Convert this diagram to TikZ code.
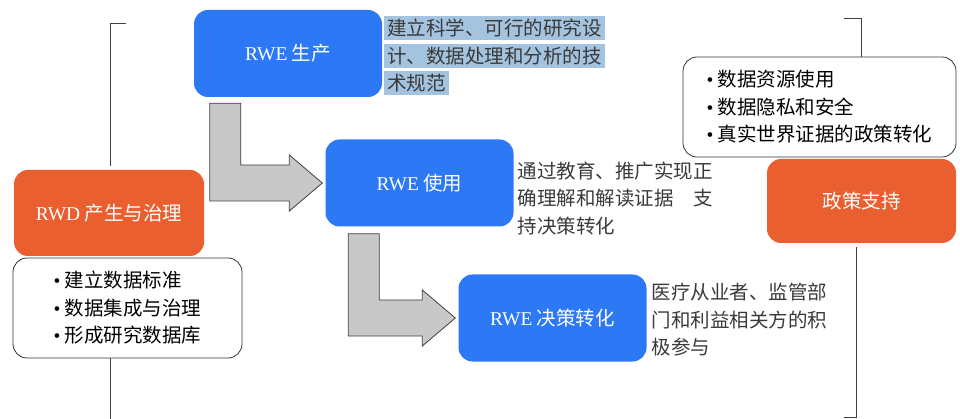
\documentclass[tikz,border=0pt]{standalone}
\usepackage{fontspec}
\setmainfont{Noto Sans CJK SC}
\newfontfamily\lat{Liberation Serif}
\usetikzlibrary{positioning,calc}

\definecolor{rweblue}{HTML}{2C78F5}
\definecolor{rwdorange}{HTML}{E95F2F}
\definecolor{marktext}{HTML}{A3C3DF}
\definecolor{arrowgray}{HTML}{C8C8C8}
\definecolor{notetext}{HTML}{3A3A3A}
\setlength{\fboxsep}{3pt}

% L-shaped block arrow: #1 = top left of the stem, #2 = tip
\newcommand{\bentarrow}[2]{%
  \draw[block] (#1) -- ++(31,0) |- ($(#2)+(-33,-18)$) -- ++(0,-10) -- (#2)
    -- ++(-33,28) -- ++(0,-10) -| (#1) -- cycle;
}

\begin{document}
\begin{tikzpicture}[x=1pt, y=-1pt,
  every node/.style={font=\fontsize{19.5}{27.5}\selectfont},
  stage/.style={rectangle, rounded corners=14pt, fill=rweblue, text=white, minimum width=188pt, minimum height=87pt},
  root/.style={stage, fill=rwdorange},
  list/.style={rectangle, rounded corners=14pt, draw=black!80, line width=0.8pt, align=left, minimum height=100pt},
  note/.style={align=left, text=notetext, inner sep=0pt, anchor=north west},
  block/.style={draw=black!75, fill=arrowgray, line width=0.8pt},
  bracket/.style={draw=black!75, line width=0.8pt}
]
\useasboundingbox (0,0) rectangle (960,419);

% Etapas
\node[stage] (prod) at (288,53.5) {{\lat RWE} 生产};
\node[stage] (use) at (419.5,183) {{\lat RWE} 使用};
\node[stage] (dec) at (552.5,318) {{\lat RWE} 决策转化};
\node[root, minimum width=190pt, minimum height=86pt] (rwd) at (109,213) {{\lat RWD} 产生与治理};
\node[root, minimum width=189pt, minimum height=84pt] (policy) at (861.5,201) {政策支持};

% Listas
\node[list, minimum width=229pt] (leftlist) at (127.5,308)
  {{\lat •} 建立数据标准\\{\lat •} 数据集成与治理\\{\lat •} 形成研究数据库};
\node[list, minimum width=273pt] (rightlist) at (819.5,107)
  {{\lat •} 数据资源使用\\{\lat •} 数据隐私和安全\\{\lat •} 真实世界证据的政策转化};

% Notas
\node[note] (prodnote) at ($(prod.north east)+(2,6)$)
  {\colorbox{marktext}{建立科学、可行的研究设}\\\colorbox{marktext}{计、数据处理和分析的技}\\\colorbox{marktext}{术规范}};
\node[note] (usenote) at ($(use.north east)+(4,22)$)
  {通过教育、推广实现正\\确理解和解读证据　支\\持决策转化};
\node[note] (decnote) at ($(dec.north east)+(5,9)$)
  {医疗从业者、监管部\\门和利益相关方的积\\极参与};

% Flechas
\coordinate (a1s) at ($(prod.south west)+(16,6)$);
\coordinate (a1t) at ($(use.west)+(-3,0)$);
\bentarrow{a1s}{a1t}
\coordinate (a2s) at ($(use.south west)+(23,7)$);
\coordinate (a2t) at ($(dec.west)+(-3,0)$);
\bentarrow{a2s}{a2t}

% Corchetes
\coordinate (ltop) at (126,23);
\coordinate (lbot) at (110,419);
\draw[bracket] (ltop) -| ($(rwd.north)+(1,-4)$);
\draw[bracket] (lbot |- leftlist.south) -- (lbot);
\coordinate (rtop) at (844,18);
\coordinate (rbot) at (844,417);
\draw[bracket] (rtop) -| (rightlist.north -| policy.south);
\draw[bracket] ($(policy.south)+(-5,4)$) |- (rbot);

\end{tikzpicture}
\end{document}
